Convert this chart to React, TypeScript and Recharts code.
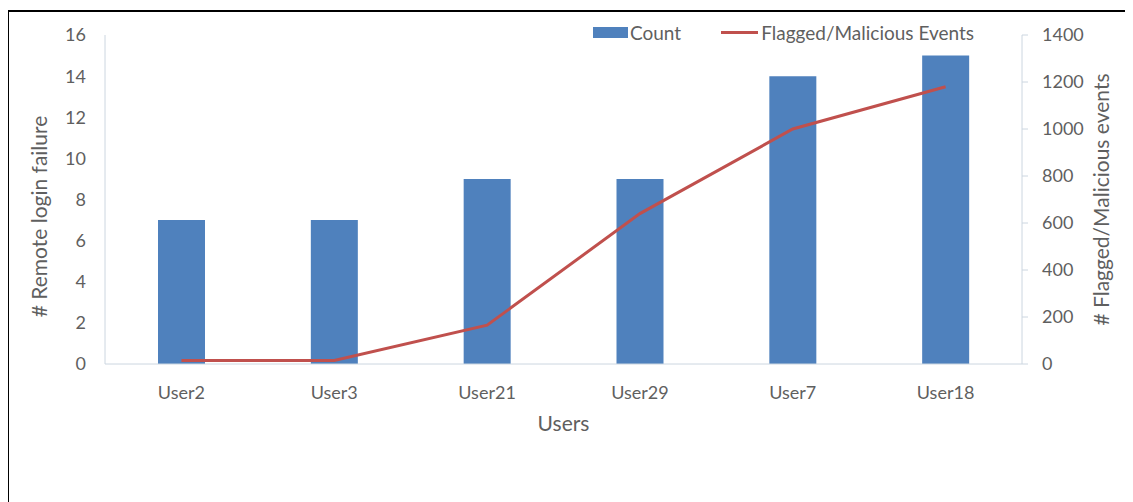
import React from "react";
import { ComposedChart, Bar, Line, XAxis, YAxis, Label } from "recharts";

const users = ["User2", "User3", "User21", "User29", "User7", "User18"];
const counts = [7, 7, 9, 9, 14, 15];
const flaggedEvents = [15, 15, 165, 640, 1000, 1180];
const leftTicks = [0, 2, 4, 6, 8, 10, 12, 14, 16];
const rightTicks = [0, 200, 400, 600, 800, 1000, 1200, 1400];

const data = users.map((u, i) => ({ user: u, count: counts[i], events: flaggedEvents[i] }));

const FONT = "Lato, 'Open Sans', sans-serif";
const TEXT = "#5f5f5f";
const AXIS = "#ccd6e0";
const BLUE = "#4f81bd";
const RED = "#c0504d";

const LegendBox = () => (
  <div
    style={{
      position: "absolute",
      left: 584,
      top: 9,
      height: 22,
      display: "flex",
      alignItems: "center",
      fontFamily: FONT,
      fontSize: 19,
      color: TEXT,
      whiteSpace: "nowrap",
    }}
  >
    <span style={{ display: "inline-block", width: 35, height: 11, background: BLUE, marginRight: 2 }} />
    <span style={{ marginRight: 40 }}>Count</span>
    <span style={{ display: "inline-block", width: 37, height: 3, background: RED, marginRight: 3 }} />
    <span>Flagged/Malicious Events</span>
  </div>
);

const LeftTitle = (props: any) => {
  const vb = props.viewBox || { x: 0, y: 0, width: 0, height: 0 };
  const cx = vb.x + 29;
  const cy = vb.y + vb.height / 2 + 17;
  return (
    <text
      x={cx}
      y={cy}
      transform={`rotate(-90, ${cx}, ${cy})`}
      textAnchor="middle"
      dominantBaseline="central"
      fill={TEXT}
      fontSize={21}
      fontFamily={FONT}
    >
      # Remote login failure
    </text>
  );
};

export default function App() {
  return (
    <div
      style={{
        position: "relative",
        marginTop: 2,
        marginLeft: -1,
        borderTop: "2px solid #000",
        borderLeft: "2px solid #000",
        width: 1130,
        height: 490,
        overflow: "hidden",
        background: "#fff",
      }}
    >
      <ComposedChart
        width={1125}
        height={490}
        data={data}
        margin={{ top: 23, right: 0, bottom: 58, left: 0 }}
        barCategoryGap={0}
      >
        <XAxis
          dataKey="user"
          height={80}
          stroke={AXIS}
          tickLine={false}
          tickSize={0}
          tickMargin={22}
          tick={{ fill: TEXT, fontSize: 18, fontFamily: FONT }}
        >
          <Label value="Users" position="insideTop" offset={52} fill={TEXT} fontSize={21} fontFamily={FONT} />
        </XAxis>
        <YAxis
          yAxisId="left"
          orientation="left"
          width={96}
          domain={[0, 16]}
          ticks={leftTicks}
          interval={0}
          stroke={AXIS}
          tickLine={false}
          tickSize={0}
          tickMargin={19}
          tick={{ fill: TEXT, fontSize: 18, fontFamily: FONT }}
        >
          <Label content={LeftTitle} />
        </YAxis>
        <YAxis
          yAxisId="right"
          orientation="right"
          width={112}
          domain={[0, 1400]}
          ticks={rightTicks}
          interval={0}
          stroke={AXIS}
          tickLine={{ stroke: AXIS }}
          tickSize={6}
          tickMargin={14}
          tick={{ fill: TEXT, fontSize: 18, fontFamily: FONT }}
        >
          <Label
            value="# Flagged/Malicious events"
            angle={-90}
            position="insideRight"
            offset={32}
            style={{ textAnchor: "middle" }}
            fill={TEXT}
            fontSize={21}
            fontFamily={FONT}
          />
        </YAxis>
        <Bar yAxisId="left" dataKey="count" name="Count" fill={BLUE} barSize={47} isAnimationActive={false} />
        <Line
          yAxisId="right"
          dataKey="events"
          name="Flagged/Malicious Events"
          type="linear"
          stroke={RED}
          strokeWidth={3}
          dot={false}
          activeDot={false}
          isAnimationActive={false}
        />
      </ComposedChart>
      <LegendBox />
    </div>
  );
}
